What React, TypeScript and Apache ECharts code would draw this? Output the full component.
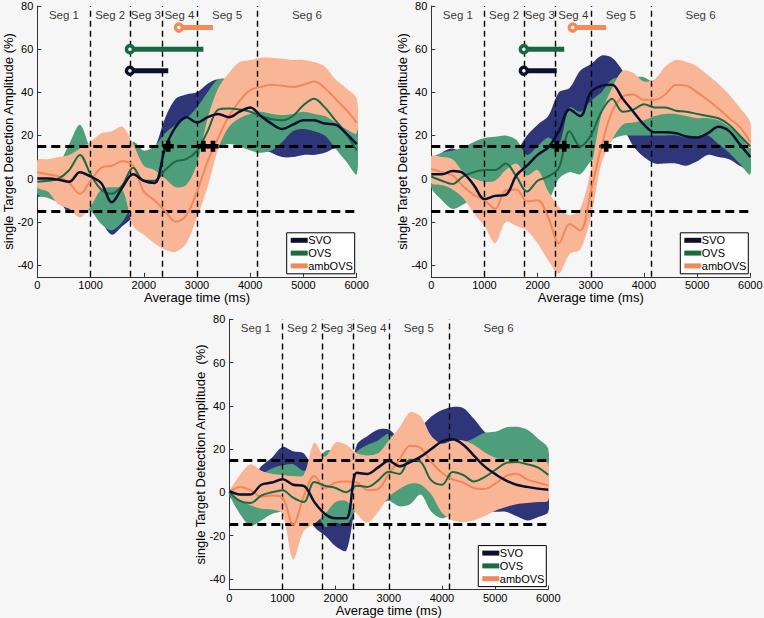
import { useEffect, useRef } from "react";
import * as echarts from "echarts";

// ---------- shared axis data ----------
const time = [0, 200, 400, 600, 800, 1000, 1200, 1400, 1600, 1800, 2000, 2200, 2400, 2600, 2800, 3000,
  3200, 3400, 3600, 3800, 4000, 4200, 4400, 4600, 4800, 5000, 5200, 5400, 5600, 5800, 6000];
const segBounds = [1000, 1740, 2340, 3000, 4130];
const segLabels = ["Seg 1", "Seg 2", "Seg 3", "Seg 4", "Seg 5", "Seg 6"];
const thresholds = [15, -15];
const yTicks = [-40, -20, 0, 20, 40, 60, 80];
const seriesNames = ["SVO", "OVS", "ambOVS"];
const onsetLevels = [50, 60, 70];
const crossLevel = 15;
const segLabelLevel = 76;

// ---------- panel 1 (top left) ----------
const p1SvoMean = [0, 0, -0.5, -1.5, 3, 1, -2, -11, -4, 2, -1, -2, 14, 24, 28.5, 26, 28.5, 30, 28.5, 31, 33, 29, 25.5, 23, 25, 27, 27, 25.5, 25, 21, 16];
const p1SvoLow = [-8, -8, -10, -16, -12, -14, -20, -26, -22, -18, -14, -12, 2, 10, 15, 14, 16, 17, 17, 17, 16, 14, 12, 10, 10, 11, 11, 12, 14, 12, 8];
const p1SvoHigh = [6, 6, 6, 10, 12, 10, 6, 0, 6, 10, 10, 14, 28, 37, 39, 40, 44, 46, 45, 43, 44, 40, 37, 35, 36, 38, 38, 36, 35, 30, 25];
const p1OvsMean = [-1.5, -1, 0, 4, 11, 2, -5, -7, -3, 5, -1, -1, 4, 8, 9, 13, 22, 32, 32.5, 32, 31, 29, 27.5, 27, 29, 34, 37, 33, 27, 21, 13];
const p1OvsLow = [-7, -9, -11, -13, -14.5, -15, -21, -24, -20, -12, -8, -8, -8, -8, -6, -2, 8, 14, 16, 15, 13, 12, 13, 17, 22, 23, 22, 20, 14, 8, 2];
const p1OvsHigh = [4, 5, 7, 16, 25, 14, 8, 5, 8, 17, 13, 15, 21, 25, 28, 33, 40, 46, 46, 44, 42, 40, 38, 38, 40, 44, 47, 44, 38, 32, 25];
const p1AmbMean = [3, 2, 1, -2, -7, -1, 5, 6, 8, 6, -6, -10, -15, -20, -17, -6, 8, 19, 29, 36, 41, 42.5, 43.5, 43, 42.5, 43.5, 45, 42, 37, 32, 26];
const p1AmbLow = [-4, -6, -12, -14, -18, -13, -5, -4, -5, -22, -26, -30, -33, -34, -30, -18, -4, 14, 24, 28, 30, 31, 30, 29.5, 30, 31, 30, 29, 26, 23, 21];
const p1AmbHigh = [8.5, 9, 10, 11, 14, 17, 21, 22, 24, 16, 6, 4, 0, -4, -3, 7, 28, 42, 49, 54, 55, 56, 56, 55.5, 55, 55, 54, 52, 46, 42, 37];
const p1OnsetStart = [1740, 1740, 2660];
const p1OnsetEnd = [2460, 3120, 3300];

// ---------- panel 2 (top right) ----------
const p2SvoMean = [2, 2, 3.5, 2.5, -3, -9.5, -8, -7.5, 1.5, 6, 11, 14.5, 22, 32, 29, 40, 43, 43.5, 37, 31, 25, 21.5, 21.5, 21, 19.5, 19, 21, 24, 22, 16, 10];
const p2SvoLow = [-3, -5, -8, -8, -14, -20, -22, -20, -14, -10, -4, 0, 8, 14, 16, 24, 28, 30, 24, 15, 10, 7, 7, 7, 6, 8, 11, 10, 9, 6, 4];
const p2SvoHigh = [6, 12, 14, 11, 6, 2, 2, 4, 12, 20, 25, 29, 40, 42, 50, 53, 57, 56, 50, 42, 38, 34, 33, 32, 31, 31, 32, 34, 32, 26, 20];
const p2OvsMean = [1, -1, -2.5, 1, 3, 4, 4, 7, 1, -6, -1, 1, 5, 22, 15, 20, 31, 37, 31, 32, 34.5, 33, 33, 31.5, 31, 30, 29, 28, 25, 20, 15];
const p2OvsLow = [-4, -10, -14, -12, -9, -8, -8, -5, -8, -12, -10, -10, 0, 3, 2, 8, 12, 18, 20, 20, 20, 20, 20, 20, 19, 19, 20, 16, 12, 7, 2];
const p2OvsHigh = [9, 12, 13, 14.5, 17, 18.8, 19.4, 20, 18, 11, 15, 19, 16, 33, 31, 36, 40, 46, 47, 47, 47, 44, 42, 40, 40, 39, 38, 36, 33, 29, 24];
const p2AmbMean = [4.5, 3, 1.5, -3.5, -7.5, -10, -14, -5.5, -5, -10.5, -10, -18, -30, -21, -24, -6, 15, 31, 38, 39, 36.5, 36.5, 39, 43.4, 43, 40, 36.5, 32.5, 28, 24, 17];
const p2AmbLow = [-2, -3, -5, -9, -16, -22, -30, -20, -22, -24, -30, -38, -44, -35, -33, -18, 7, 18, 25, 26, 27, 29, 30, 30, 29, 28, 28, 27, 24, 20, 14];
const p2AmbHigh = [10.5, 10, 9, 3, 0, -1.5, -1, 4, 7, 1.5, 4, -6, -13, -17, -14, 4, 30, 42, 50, 49, 45, 46, 52, 55, 54, 52, 48, 44, 39, 33, 26];
const p2OnsetStart = [1740, 1740, 2660];
const p2OnsetEnd = [2360, 2500, 3290];

// ---------- panel 3 (bottom) ----------
const p3SvoMean = [0.5, -1, -1, 3.5, 4.5, 6, 3.5, 3, -4.5, -10, -12, -12, 9, 8.5, 11.5, 14.5, 12, 14, 16.5, 20, 23.5, 24.5, 22, 17, 12, 8.5, 5.5, 3.5, 2.5, 1.7, 1.2];
const p3SvoLow = [-2, -5, -6, -5, -5, -4, -8, -6, -16, -20, -25, -27, -5, -3, 0, 2, 0, 2, 5, 8, 8, 6, 1, -5, -9, -9, -9, -11, -13, -11.5, -9];
const p3SvoHigh = [1, 3, 5, 12, 16, 21, 19, 18, 10, 5, 2, 2, 22, 26, 29, 29, 25, 26, 30, 35, 38, 39.5, 39, 34, 28, 24, 20, 16, 12, 10, 9];
const p3OvsMean = [0, -4, -5, -1.5, 0, 1, -2.5, -4.5, 4.8, 3, 2, 0, 3, 2.5, 5.5, 9.5, 8.5, 15, 14, 5.5, 3.5, 9.4, 8, 5, 7, 10.3, 13.5, 14, 13, 11.5, 8];
const p3OvsLow = [-1, -10, -15.5, -13, -10, -9, -10, -14, -8, -16, -14, -15, -8, -10, -6, -4, -6.5, -5.5, -1, -9, -12, -10, -10, -10, -10, -6, -4, -3, -3, -3, -3];
const p3OvsHigh = [1, 2, 4, 8, 11, 12.5, 13, 10, 12, 19, 19, 14, 19, 22, 24, 27, 22, 26, 25, 18, 20, 22, 23, 25, 27.5, 28, 30, 30.3, 29, 25, 20];
const p3AmbMean = [0, 2.5, 1, -2, -1.5, -2.5, -15, -2, 7.5, 2, 4.5, 5, 4.5, 1, 1.5, 8.6, 15, 21.5, 20.5, 14, 9, 6, 4.5, 2, 1.5, 4, 7.5, 8.6, 6, 4.5, 3.2];
const p3AmbLow = [-0.5, -3.7, -6, -7.6, -8, -10, -31, -18, -14.5, -10, -4.5, -4, -10, -14, -9, -2.2, 1.5, 4, 3.5, -1, -9.5, -13, -13.7, -13, -11, -8.5, -6.8, -5.5, -5, -4.5, -3.7];
const p3AmbHigh = [0.5, 8, 13, 10, 8.6, 8, 7.5, 8, 23, 16.4, 23, 22, 18, 17, 18, 24, 30, 37, 35, 26, 22.5, 24, 24, 22, 18.5, 16, 15, 15, 14.5, 14, 13.3];

// ---------- styling ----------
const FONT = "'Liberation Sans', Arial, Helvetica, sans-serif";
const BAND_COLORS = ["#2e3679", "#4f9e7b", "#f9b697"];
const LINE_COLORS = ["#0c0f2e", "#1b6a42", "#f2885a"];
const BAR_COLORS = ["#0c0f2e", "#17693f", "#f48b5b"];
const LINE_WIDTHS = [2.5, 2, 2];
const PLUS = "path://M3.5,0H8.5V3.5H12V8.5H8.5V12H3.5V8.5H0V3.5H3.5Z";

const GRIDS = [
  { left: 37.3, top: 6, width: 319.4, height: 270.8, yMin: -45.5 },
  { left: 431.3, top: 6, width: 319, height: 270.8, yMin: -45.5 },
  { left: 229.3, top: 319.3, width: 319, height: 270.3, yMin: -45 },
];

const PANELS = [
  {
    groups: [[p1SvoMean, p1SvoLow, p1SvoHigh], [p1OvsMean, p1OvsLow, p1OvsHigh], [p1AmbMean, p1AmbLow, p1AmbHigh]],
    onsetStart: p1OnsetStart, onsetEnd: p1OnsetEnd,
    yName: "single Target Detection Amplitude (%)",
  },
  {
    groups: [[p2SvoMean, p2SvoLow, p2SvoHigh], [p2OvsMean, p2OvsLow, p2OvsHigh], [p2AmbMean, p2AmbLow, p2AmbHigh]],
    onsetStart: p2OnsetStart, onsetEnd: p2OnsetEnd,
    yName: "single Target Detection Amplitude (%)",
  },
  {
    groups: [[p3SvoMean, p3SvoLow, p3SvoHigh], [p3OvsMean, p3OvsLow, p3OvsHigh], [p3AmbMean, p3AmbLow, p3AmbHigh]],
    onsetStart: [] as number[], onsetEnd: [] as number[],
    yName: "single Target Detection Amplitude  (%)",
  },
];

function bandSeries(gi: number, low: number[], high: number[], color: string, z: number, name: string) {
  return {
    type: "custom", name, xAxisIndex: gi, yAxisIndex: gi, z, silent: true, clip: true,
    data: time.map((t, i) => [t, low[i], high[i]]),
    encode: { x: 0, y: [1, 2] },
    renderItem: (params: any, api: any) => {
      if (params.dataIndex !== 0) return null;
      const upper = time.map((t, i) => api.coord([t, high[i]]));
      const lower = time.map((t, i) => api.coord([t, low[i]])).reverse();
      return {
        type: "polygon",
        shape: { points: [...upper, ...lower], smooth: 0.3 },
        style: { fill: color, stroke: null },
      };
    },
  };
}

function buildOption() {
  const bounds = [0, ...segBounds, 6000];
  const segMids = segLabels.map((_, i) => (bounds[i] + bounds[i + 1]) / 2);
  const series: any[] = [];
  const grid: any[] = [];
  const xAxis: any[] = [];
  const yAxis: any[] = [];
  const graphic: any[] = [];

  PANELS.forEach((panel, gi) => {
    const g = GRIDS[gi];
    grid.push({ left: g.left, top: g.top, width: g.width, height: g.height, containLabel: false, outerBoundsMode: "none" });
    xAxis.push({
      type: "value", gridIndex: gi, min: 0, max: 6000, interval: 1000,
      axisLine: { show: true, onZero: false, lineStyle: { color: "#333", width: 1 } },
      axisTick: { show: true, inside: true, length: 4, lineStyle: { color: "#333" } },
      axisLabel: { fontSize: 11, color: "#000", margin: 3, fontFamily: FONT, formatter: (v: number) => String(v) },
      splitLine: { show: false },
      name: "Average time (ms)", nameLocation: "middle", nameGap: 14, nameMoveOverlap: false,
      nameTextStyle: { fontSize: 13, color: "#000", fontFamily: FONT },
    });
    yAxis.push({
      type: "value", gridIndex: gi, min: g.yMin, max: 80,
      axisLine: { show: true, onZero: false, lineStyle: { color: "#333", width: 1 } },
      axisTick: { show: true, inside: true, length: 4, customValues: yTicks, lineStyle: { color: "#333" } },
      axisLabel: { customValues: yTicks, fontSize: 11, color: "#000", margin: 4, fontFamily: FONT },
      splitLine: { show: false },
      name: panel.yName, nameLocation: "middle", nameGap: 22, nameMoveOverlap: false,
      nameTextStyle: { fontSize: 13, color: "#000", fontFamily: FONT },
    });

    // confidence bands: SVO, OVS, ambOVS (drawn in this order)
    panel.groups.forEach((grp, si) => {
      const [, low, high] = grp;
      series.push(bandSeries(gi, low, high, BAND_COLORS[si], 1 + si, `${seriesNames[si]} band`));
    });

    // segment labels + dashed segment boundaries and thresholds
    series.push({
      type: "scatter", xAxisIndex: gi, yAxisIndex: gi, z: 4, silent: true,
      symbolSize: 1, itemStyle: { color: "rgba(0,0,0,0)" },
      data: segMids.map((m, i) => ({ value: [m, segLabelLevel], name: segLabels[i] })),
      label: { show: true, position: "inside", formatter: "{b}", fontSize: 11.5, color: "#000", fontFamily: FONT },
      markLine: {
        silent: true, symbol: ["none", "none"], label: { show: false },
        data: [
          ...segBounds.map((b) => ({ xAxis: b, lineStyle: { color: "#000", width: 1.4, type: [6, 4] } })),
          ...thresholds.map((t) => ({ yAxis: t, lineStyle: { color: "#000", width: 3, type: [9, 5] } })),
        ],
      },
    });

    // mean lines (ambOVS, OVS, SVO so the SVO line lies on top)
    [2, 1, 0].forEach((si) => {
      const mean = panel.groups[si][0];
      series.push({
        type: "line", name: seriesNames[si], xAxisIndex: gi, yAxisIndex: gi, z: 5,
        symbol: "none", smooth: 0.35, silent: true,
        lineStyle: { color: LINE_COLORS[si], width: LINE_WIDTHS[si] },
        data: time.map((t, i) => [t, mean[i]]),
      });
    });

    // onset bars, start circles, threshold-crossing crosses
    panel.onsetStart.forEach((s, k) => {
      series.push({
        type: "line", xAxisIndex: gi, yAxisIndex: gi, z: 6, symbol: "none", silent: true,
        lineStyle: { color: BAR_COLORS[k], width: 5, cap: "butt" },
        data: [[s, onsetLevels[k]], [panel.onsetEnd[k], onsetLevels[k]]],
      });
    });
    if (panel.onsetStart.length) {
      series.push({
        type: "scatter", xAxisIndex: gi, yAxisIndex: gi, z: 7, silent: true,
        symbol: "circle", symbolSize: 7,
        itemStyle: { color: "#fff", borderWidth: 3.5, opacity: 1 },
        data: panel.onsetStart.map((s, k) => ({ value: [s, onsetLevels[k]], itemStyle: { borderColor: BAR_COLORS[k] } })),
      });
      series.push({
        type: "scatter", xAxisIndex: gi, yAxisIndex: gi, z: 8, silent: true,
        symbol: PLUS, symbolSize: 11, itemStyle: { color: "#000", opacity: 1 },
        data: panel.onsetEnd.map((e) => [e, crossLevel]),
      });
    }

    // legend box
    const bw = 68, bh = 41;
    const bx = g.left + g.width - 2 - bw;
    const by = g.top + g.height - 3 - bh;
    graphic.push({ type: "rect", z: 100, shape: { x: bx, y: by, width: bw, height: bh }, style: { fill: "#fff", stroke: "#000", lineWidth: 1 } });
    seriesNames.forEach((nm, k) => {
      const ry = by + 7.5 + k * 12.8;
      graphic.push({ type: "rect", z: 101, shape: { x: bx + 4, y: ry - 2.5, width: 17, height: 5 }, style: { fill: LINE_COLORS[k] } });
      graphic.push({
        type: "text", z: 101, x: bx + 21.5, y: ry,
        style: { text: nm, fontSize: 11, fontFamily: FONT, fill: "#000", textVerticalAlign: "middle", verticalAlign: "middle" },
      });
    });
  });

  return {
    animation: false,
    backgroundColor: "#f6f6f6",
    textStyle: { fontFamily: FONT },
    grid, xAxis, yAxis, series, graphic,
  };
}

export default function App() {
  const ref = useRef<HTMLDivElement>(null);
  useEffect(() => {
    if (!ref.current) return;
    const chart = echarts.init(ref.current, null, { renderer: "svg" });
    chart.setOption(buildOption() as any);
    return () => chart.dispose();
  }, []);
  return <div ref={ref} style={{ position: "absolute", left: 0, top: 0, width: 764, height: 618 }} />;
}
